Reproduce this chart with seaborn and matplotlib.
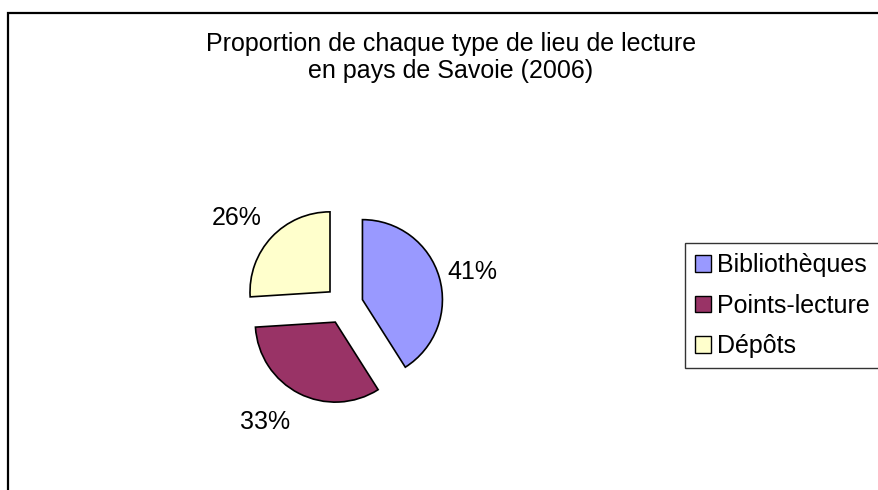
import matplotlib
matplotlib.use("Agg")
import numpy as np
import matplotlib.pyplot as plt
import seaborn as sns
from matplotlib.patches import Rectangle

# ---- data ----
categories = ["Bibliothèques", "Points-lecture", "Dépôts"]
values = [41, 33, 26]
colors = ["#9999FF", "#993366", "#FFFFCC"]
title_lines = ["Proportion de chaque type de lieu de lecture", "en pays de Savoie (2006)"]

# label placement style (angular nudge in degrees, radial distance in radii), per slice
label_shift_deg = [-2, -7, 4]
label_radius = [1.66, 1.76, 1.73]

sns.set_theme(style="white")
plt.rcParams["font.family"] = ["Liberation Sans", "DejaVu Sans"]
plt.rcParams["text.color"] = "black"

W, H = 879, 490
fig = plt.figure(figsize=(W / 100, H / 100), dpi=100)
fig.patch.set_facecolor("white")

# chart-area border (extends beyond the right/bottom edges)
fig.patches.append(Rectangle((8 / W, -0.1), 1.2, 1 - 13 / H + 0.1, transform=fig.transFigure,
                             fill=False, edgecolor="black", linewidth=1.6, zorder=0))

ax = fig.add_axes([144 / W, 25 / H, 400 / W, 320 / H])

wedges, texts, autotexts = ax.pie(
    values, colors=colors, startangle=90, counterclock=False,
    explode=[0.24] * len(values), radius=1.0,
    autopct=lambda p: f"{p:.0f}%", pctdistance=1.47,
    wedgeprops=dict(edgecolor="black", linewidth=1.2),
    textprops=dict(fontsize=18, color="black"),
)
ax.set_xlim(-2.5, 2.5)
ax.set_ylim(-2, 2)
ax.set_aspect("equal")
ax.axis("off")
for w, t, dth, r in zip(wedges, autotexts, label_shift_deg, label_radius):
    th = np.deg2rad((w.theta1 + w.theta2) / 2 + dth)
    t.set_position((r * np.cos(th), r * np.sin(th)))
    t.set_clip_on(False)

fig.text(451 / W, 1 - 57.5 / H, "\n".join(title_lines), ha="center", va="center",
         fontsize=18, linespacing=1.2, color="black")

leg = fig.legend(wedges, categories, loc="upper left", bbox_to_anchor=(685 / W, 1 - 243 / H),
                 bbox_transform=fig.transFigure, borderaxespad=0, fontsize=18,
                 frameon=True, fancybox=False, shadow=False,
                 handlelength=0.65, handleheight=0.65, handletextpad=0.25,
                 labelspacing=0.67, borderpad=0.4)
leg.get_frame().set_edgecolor("black")
leg.get_frame().set_linewidth(1.0)
for t in leg.get_texts():
    t.set_color("black")
for h in leg.legend_handles:
    h.set_linewidth(1.0)

fig.savefig("out.png", dpi=100)
